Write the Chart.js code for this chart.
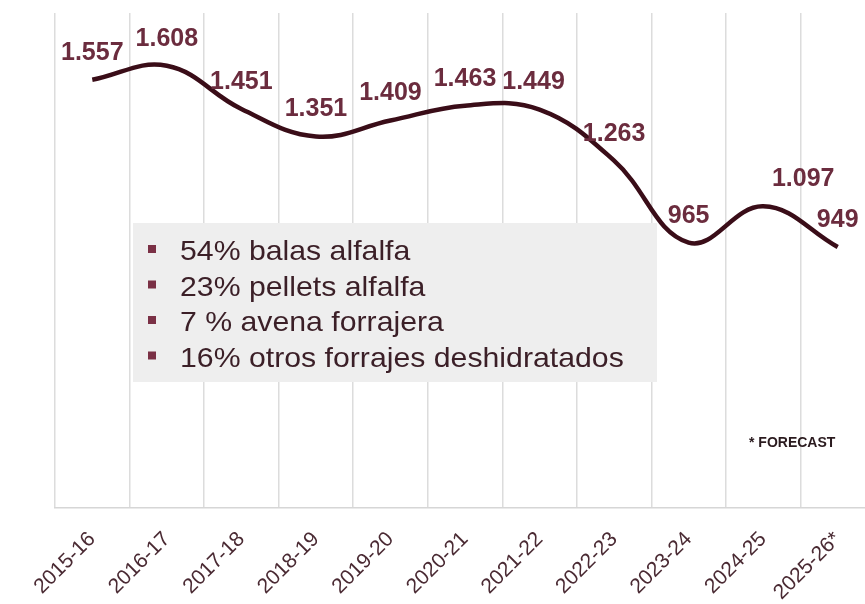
<!DOCTYPE html>
<html>
<head>
<meta charset="utf-8">
<script src="https://cdn.jsdelivr.net/npm/chart.js@4/dist/chart.umd.min.js"></script>
<style>
  html, body { margin: 0; padding: 0; background: #fff; overflow: hidden; }
  #wrap { width: 865px; height: 604px; overflow: hidden; }
</style>
</head>
<body>
<div id="wrap"><canvas id="forage" width="880" height="604"></canvas></div>
<script>
const seasons = ["2015-16", "2016-17", "2017-18", "2018-19", "2019-20", "2020-21",
  "2021-22", "2022-23", "2023-24", "2024-25", "2025-26*"];
const volumes = [1557, 1608, 1451, 1351, 1409, 1463, 1449, 1263, 965, 1097, 949];
const mixItems = ["54% balas alfalfa", "23% pellets alfalfa", "7 % avena forrajera",
  "16% otros forrajes deshidratados"];
const footnote = "* FORECAST";

const fmt = (v) => v.toLocaleString("de-DE");

// value labels above each point, a few nudged sideways like the original
const valueLabels = {
  id: "valueLabels",
  afterDatasetsDraw(chart) {
    const ctx = chart.ctx;
    const shift = { 6: -6, 9: 40 };
    const pts = chart.getDatasetMeta(0).data;
    ctx.save();
    ctx.font = "bold 25px 'Liberation Sans', Arial, sans-serif";
    ctx.fillStyle = "#6b2c3e";
    ctx.textAlign = "center";
    ctx.textBaseline = "middle";
    pts.forEach((p, i) => {
      ctx.fillText(fmt(volumes[i]), p.x + (shift[i] || 0), p.y - 27);
    });
    ctx.restore();
  },
};

// grey box with the product mix + forecast note
const mixBox = {
  id: "mixBox",
  beforeDatasetsDraw(chart) {
    const ctx = chart.ctx;
    ctx.save();
    ctx.fillStyle = "#eeeeee";
    ctx.fillRect(133, 223, 524, 159);
    ctx.font = "28px 'Liberation Sans', Arial, sans-serif";
    ctx.textBaseline = "alphabetic";
    mixItems.forEach((t, i) => {
      const base = 260 + i * 35.5;
      ctx.fillStyle = "#7a3045";
      ctx.fillRect(148, base - 15, 8, 8);
      ctx.fillStyle = "#3b1f27";
      ctx.save();
      ctx.translate(180, base);
      ctx.scale(1.08, 1);
      ctx.fillText(t, 0, 0);
      ctx.restore();
    });
    ctx.font = "bold 14px 'Liberation Sans', Arial, sans-serif";
    ctx.fillStyle = "#2a1a1e";
    ctx.fillText(footnote, 749, 447);
    ctx.restore();
  },
};

new Chart(document.getElementById("forage"), {
  type: "line",
  data: {
    labels: seasons,
    datasets: [
      {
        data: volumes,
        borderColor: "#3a0d18",
        borderWidth: 4.5,
        tension: 0.4,
        pointRadius: 0,
        fill: false,
      },
    ],
  },
  options: {
    responsive: false,
    animation: false,
    layout: { padding: { left: 55, right: 5, top: 13, bottom: 0 } },
    plugins: { legend: { display: false }, tooltip: { enabled: false } },
    scales: {
      x: {
        offset: true,
        afterFit: (scale) => { scale.height = 96; },
        grid: { offset: true, color: "#dcdcdc", lineWidth: 1.5, drawTicks: false },
        border: { color: "#d6d6d6", width: 1.5 },
        ticks: {
          minRotation: 45,
          maxRotation: 45,
          padding: 19,
          color: "#4a2a33",
          font: { family: "'Liberation Sans', Arial, sans-serif", size: 21 },
        },
      },
      y: { display: false, min: 0, max: 1800 },
    },
  },
  plugins: [mixBox, valueLabels],
});
</script>
</body>
</html>
